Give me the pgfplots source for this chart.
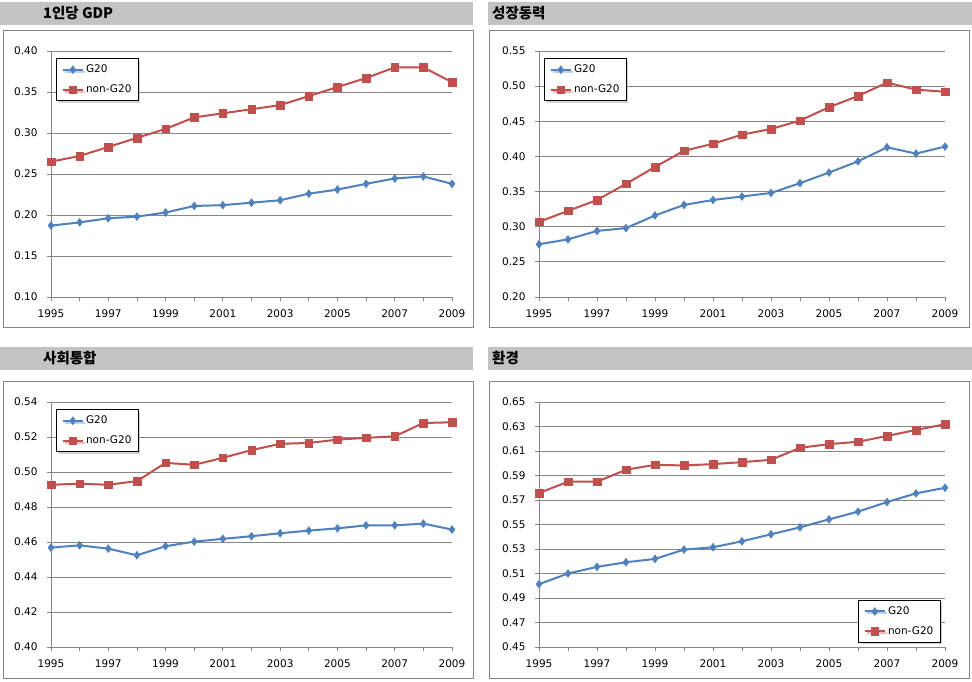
\documentclass[border=0pt]{standalone}
\usepackage{fontspec}
\setmainfont{DejaVu Sans}
\newfontfamily\kr{Noto Sans CJK KR}
\usepackage{pgfplots}
\usepackage{pgfplotstable}
\pgfplotsset{compat=1.18}
\usetikzlibrary{shadows}
\definecolor{sblue}{HTML}{4F81BD}
\definecolor{sred}{HTML}{C0504D}
\definecolor{gridgray}{HTML}{868686}
\definecolor{bargray}{HTML}{C3C3C3}

\pgfplotstableread{
year g20 ng20
1995 0.187 0.265
1996 0.191 0.272
1997 0.196 0.283
1998 0.198 0.294
1999 0.203 0.305
2000 0.211 0.319
2001 0.212 0.324
2002 0.215 0.329
2003 0.218 0.334
2004 0.226 0.345
2005 0.231 0.356
2006 0.238 0.367
2007 0.2445 0.380
2008 0.247 0.380
2009 0.238 0.362
}\gdp

\pgfplotstableread{
year g20 ng20
1995 0.275 0.307
1996 0.282 0.3225
1997 0.294 0.338
1998 0.298 0.361
1999 0.316 0.385
2000 0.331 0.408
2001 0.338 0.418
2002 0.343 0.431
2003 0.348 0.439
2004 0.362 0.451
2005 0.377 0.470
2006 0.393 0.486
2007 0.413 0.505
2008 0.404 0.495
2009 0.414 0.492
}\growth

\pgfplotstableread{
year g20 ng20
1995 0.4568 0.4927
1996 0.4581 0.4933
1997 0.4562 0.4927
1998 0.4524 0.4948
1999 0.4576 0.5052
2000 0.4602 0.5041
2001 0.4618 0.5081
2002 0.4633 0.5125
2003 0.4650 0.5161
2004 0.4665 0.5166
2005 0.4678 0.5185
2006 0.4695 0.5195
2007 0.4695 0.5204
2008 0.4705 0.5280
2009 0.4671 0.5284
}\social

\pgfplotstableread{
year g20 ng20
1995 0.5013 0.5757
1996 0.5100 0.5849
1997 0.5154 0.5849
1998 0.5192 0.5947
1999 0.5219 0.5987
2000 0.5295 0.5982
2001 0.5314 0.5993
2002 0.5363 0.6009
2003 0.5420 0.6028
2004 0.5477 0.6126
2005 0.5542 0.6156
2006 0.5605 0.6175
2007 0.5683 0.6223
2008 0.5754 0.6272
2009 0.5800 0.6318
}\env

\pgfplotsset{
 panel/.style={
  scale only axis, anchor=south west,
  xmin=1995, xmax=2009,
  axis lines=left, axis line style={-, gridgray, line width=0.8pt},
  ymajorgrids, grid style={gridgray, line width=0.8pt},
  xtick={1995,...,2009},
  xticklabels={1995,,1997,,1999,,2001,,2003,,2005,,2007,,2009},
  tick align=outside, major tick length=4pt,
  tick style={gridgray, line width=0.8pt},
  tick label style={font=\fontsize{10.5}{12}\selectfont, black},
  xticklabel style={yshift=-5pt},
  yticklabel style={xshift=-6pt, /pgf/number format/.cd, fixed, fixed zerofill, precision=2, assume math mode=true},
  legend cell align=left,
  legend image code/.code={\draw[mark repeat=2,mark phase=2] plot coordinates {(0cm,0cm) (0.36cm,0cm) (0.72cm,0cm)};},
  legend style={draw=black, line width=1.2pt, fill=white,
    font=\fontsize{10.5}{12}\selectfont,
    inner xsep=5pt, inner ysep=4.5pt, row sep=6.5pt,
    drop shadow={shadow xshift=2pt, shadow yshift=-2pt, opacity=0.35}},
  clip=false,
 },
 g20/.style={sblue, line width=2pt, mark=diamond*, mark size=4pt, mark options={solid, sblue, line width=0.4pt}},
 ng20/.style={sred, line width=2pt, mark=square*, mark size=3.8pt, mark options={solid, sred, line width=0.4pt}},
}

\begin{document}
\begin{tikzpicture}[x=1pt,y=1pt]
\fill[white] (0,0) rectangle (972,682);
% title bars
\fill[bargray] (0,657) rectangle (473,680);
\fill[bargray] (488,657) rectangle (972,680);
\fill[bargray] (0,312) rectangle (473,335);
\fill[bargray] (488,312) rectangle (972,335);
\node[anchor=west, inner sep=0pt] at (43,668.5) {\kr\bfseries\fontsize{14.5}{16}\selectfont 1인당 GDP};
\node[anchor=west, inner sep=0pt] at (492,668.5) {\kr\bfseries\fontsize{14.5}{16}\selectfont 성장동력};
\node[anchor=west, inner sep=0pt] at (43,324) {\kr\bfseries\fontsize{14.5}{16}\selectfont 사회통합};
\node[anchor=west, inner sep=0pt] at (492,324) {\kr\bfseries\fontsize{14.5}{16}\selectfont 환경};
% chart boxes
\draw[gridgray, line width=0.8pt] (3,355) rectangle (473,652);
\draw[gridgray, line width=0.8pt] (489,355) rectangle (969,652);
\draw[gridgray, line width=0.8pt] (3,4) rectangle (473,301);
\draw[gridgray, line width=0.8pt] (489,4) rectangle (969,301);

\begin{axis}[panel, at={(51pt,385pt)}, width=401pt, height=246pt,
  ymin=0.10, ymax=0.40, ytick={0.10,0.15,...,0.41},
  legend style={at={(axis description cs:0,1)}, anchor=north west, xshift=5pt, yshift=-7pt}]
\addplot[g20] table[x=year,y=g20]{\gdp};
\addplot[ng20] table[x=year,y=ng20]{\gdp};
\legend{G20,non-G20}
\end{axis}

\begin{axis}[panel, at={(539pt,385pt)}, width=406pt, height=246pt,
  ymin=0.20, ymax=0.55, ytick={0.20,0.25,...,0.56},
  legend style={at={(axis description cs:0,1)}, anchor=north west, xshift=5pt, yshift=-7pt}]
\addplot[g20] table[x=year,y=g20]{\growth};
\addplot[ng20] table[x=year,y=ng20]{\growth};
\legend{G20,non-G20}
\end{axis}

\begin{axis}[panel, at={(51pt,35pt)}, width=401pt, height=245pt,
  ymin=0.40, ymax=0.54, ytick={0.40,0.42,...,0.541},
  legend style={at={(axis description cs:0,1)}, anchor=north west, xshift=5pt, yshift=-7pt}]
\addplot[g20] table[x=year,y=g20]{\social};
\addplot[ng20] table[x=year,y=ng20]{\social};
\legend{G20,non-G20}
\end{axis}

\begin{axis}[panel, at={(539pt,35pt)}, width=406pt, height=245pt,
  ymin=0.45, ymax=0.65, ytick={0.45,0.47,...,0.651},
  legend style={at={(axis description cs:1,0)}, anchor=south east, xshift=-4pt, yshift=4pt}]
\addplot[g20] table[x=year,y=g20]{\env};
\addplot[ng20] table[x=year,y=ng20]{\env};
\legend{G20,non-G20}
\end{axis}
\end{tikzpicture}
\end{document}
